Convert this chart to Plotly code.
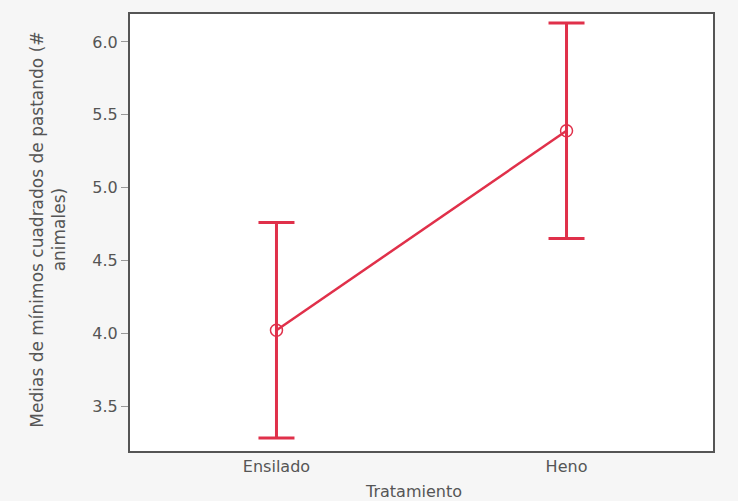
import plotly.graph_objects as go

# Least-squares means of grazing animals by treatment, with error bar half-widths
tratamientos = ["Ensilado", "Heno"]
medias = [4.02, 5.39]
errores = [0.74, 0.74]
y_ticks = [3.5, 4.0, 4.5, 5.0, 5.5, 6.0]
y_tick_labels = ["3.5", "4.0", "4.5", "5.0", "5.5", "6.0"]

rojo = "#e0304a"
texto = "#555555"
fuente = "DejaVu Sans, Verdana, sans-serif"

fig = go.Figure()
fig.add_trace(go.Scatter(
    x=[0, 1],
    y=medias,
    mode="lines+markers",
    line=dict(color=rojo, width=2.5),
    marker=dict(symbol="circle-open", size=12, color=rojo, line=dict(width=1.5)),
    error_y=dict(type="data", array=errores, visible=True,
                 color=rojo, thickness=3, width=18),
    showlegend=False,
))

fig.update_layout(
    width=738, height=501,
    margin=dict(l=130, r=25, t=14, b=50),
    paper_bgcolor="#f6f6f6",
    plot_bgcolor="#ffffff",
    font=dict(family=fuente, size=16, color=texto),
    xaxis=dict(
        range=[-0.505, 1.505],
        tickvals=[0, 1], ticktext=tratamientos,
        ticks="", showgrid=False, zeroline=False,
        showline=True, mirror=True, linecolor="#555555", linewidth=2,
        tickfont=dict(family=fuente, size=16, color=texto),
    ),
    yaxis=dict(
        range=[3.191, 6.192],
        tickvals=y_ticks, ticktext=y_tick_labels,
        ticks="outside", ticklen=7, tickcolor="#999999", tickwidth=1,
        showgrid=False, zeroline=False,
        showline=True, mirror=True, linecolor="#555555", linewidth=2,
        tickfont=dict(family=fuente, size=16, color=texto),
    ),
    annotations=[
        dict(text="Medias de mínimos cuadrados de pastando (#<br>animales)",
             xref="paper", yref="paper", x=-0.141, y=0.506,
             textangle=-90, showarrow=False, xanchor="center", yanchor="middle",
             font=dict(family=fuente, size=17, color=texto)),
        dict(text="Tratamiento",
             xref="paper", yref="paper", x=0.486, y=0, yshift=-40,
             showarrow=False, xanchor="center", yanchor="middle",
             font=dict(family=fuente, size=16, color=texto)),
    ],
)

fig.write_html("out.html")
